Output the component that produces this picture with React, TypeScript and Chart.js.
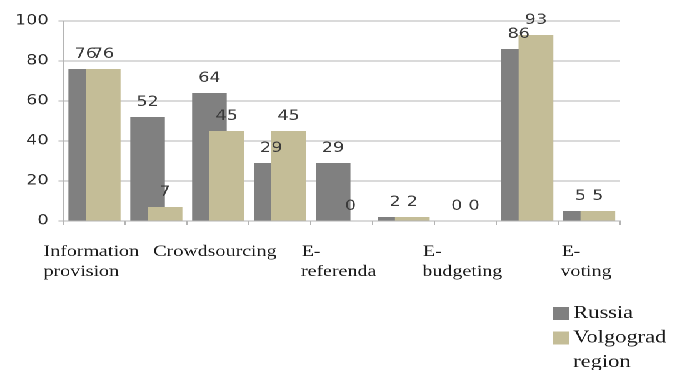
import React, { useEffect, useRef } from 'react';
import { Chart, registerables } from 'chart.js';

Chart.register(...registerables);

// Category names (multi-line labels are stored line by line)
const categories: (string | string[])[] = [
  ['Information', 'provision'],
  '',
  'Crowdsourcing',
  '',
  ['E-', 'referenda'],
  '',
  ['E-', 'budgeting'],
  '',
  ['E-', 'voting'],
];

// Percentages per category
const russia = [76, 52, 64, 29, 29, 2, 0, 86, 5];
const volgograd = [76, 7, 45, 45, 0, 2, 0, 93, 5];

const seriesNames = ['Russia', 'Volgograd region'];
const seriesColors = ['#808080', '#c4bd97'];

const yTicks = [0, 20, 40, 60, 80, 100];

// The chart is laid out narrower and widened horizontally on screen
const STRETCH = 1.25;
const W = 540;
const H = 370;

const SERIF = '"Liberation Serif", "Times New Roman", serif';
const SANS = '"DejaVu Sans", Verdana, sans-serif';
const TICK_FONT_SIZE = 16;
const GRID = '#b4b4b4';

// Pad shorter lines with spaces so centred lines read as a left-aligned block
function leftAlignBlock(label: string | string[]): string | string[] {
  if (!Array.isArray(label)) return label;
  const c = document.createElement('canvas').getContext('2d');
  if (!c) return label;
  c.font = `${TICK_FONT_SIZE}px ${SERIF}`;
  const widest = Math.max(...label.map((l) => c.measureText(l).width));
  return label.map((l) => {
    let s = l;
    while (c.measureText(s + ' ').width <= widest + 1) s += ' ';
    return s;
  });
}

// Overlapping bars: the second series is painted over the first,
// then each bar gets its value written above it
const overlapAndValues = {
  id: 'overlapAndValues',
  afterDatasetsDraw(chart: any) {
    const ctx = chart.ctx;
    const area = chart.chartArea;
    ctx.save();
    ctx.beginPath();
    ctx.rect(area.left, area.top, area.right - area.left, area.bottom - area.top);
    ctx.clip();
    chart.getDatasetMeta(1).controller.draw();
    ctx.restore();

    ctx.save();
    ctx.font = `14px ${SANS}`;
    ctx.fillStyle = '#3a3a3a';
    ctx.textAlign = 'center';
    ctx.textBaseline = 'alphabetic';
    chart.data.datasets.forEach((ds: any, i: number) => {
      const meta = chart.getDatasetMeta(i);
      meta.data.forEach((bar: any, j: number) => {
        ctx.fillText(String(ds.data[j]), bar.x, bar.y - 11);
      });
    });
    ctx.restore();
  },
};

// Legend stacked at the lower right, wrapping long names
const cornerLegend = {
  id: 'cornerLegend',
  afterDraw(chart: any) {
    const ctx = chart.ctx;
    const boxX = chart.chartArea.right - 53.5;
    const textX = boxX + 16;
    const maxW = chart.width - textX - 2;
    const lineH = 24.5;
    let baseline = chart.scales.x.bottom + 19;
    ctx.save();
    ctx.font = `18px ${SERIF}`;
    ctx.textAlign = 'left';
    ctx.textBaseline = 'alphabetic';
    chart.data.datasets.forEach((ds: any) => {
      ctx.fillStyle = ds.backgroundColor;
      ctx.fillRect(boxX, baseline - 11, 13, 13);
      const words = String(ds.label).split(' ');
      const lines: string[] = [];
      let cur = '';
      words.forEach((w) => {
        const test = cur ? cur + ' ' + w : w;
        if (cur && ctx.measureText(test).width > maxW) {
          lines.push(cur);
          cur = w;
        } else {
          cur = test;
        }
      });
      if (cur) lines.push(cur);
      ctx.fillStyle = '#1a1a1a';
      lines.forEach((l) => {
        ctx.fillText(l, textX, baseline);
        baseline += lineH;
      });
    });
    ctx.restore();
  },
};

export default function App() {
  const ref = useRef<HTMLCanvasElement | null>(null);

  useEffect(() => {
    if (!ref.current) return;
    const chart = new Chart(ref.current, {
      type: 'bar',
      data: {
        labels: categories.map(leftAlignBlock),
        datasets: [
          {
            label: seriesNames[0],
            data: russia,
            backgroundColor: seriesColors[0],
            categoryPercentage: 0.56,
            barPercentage: 2.0,
          },
          {
            label: seriesNames[1],
            data: volgograd,
            backgroundColor: seriesColors[1],
            categoryPercentage: 0.56,
            barPercentage: 2.0,
          },
        ],
      },
      options: {
        responsive: false,
        animation: false,
        devicePixelRatio: 2,
        layout: { padding: { left: 4, top: 21, right: 44, bottom: 71 } },
        plugins: {
          legend: { display: false },
          tooltip: { enabled: false },
        },
        scales: {
          x: {
            offset: true,
            grid: {
              offset: true,
              drawOnChartArea: false,
              drawTicks: true,
              tickLength: 4,
              color: GRID,
            },
            border: { color: GRID },
            ticks: {
              autoSkip: false,
              maxRotation: 0,
              minRotation: 0,
              padding: 17,
              labelOffset: -2.5,
              color: '#1a1a1a',
              font: { family: SERIF, size: TICK_FONT_SIZE, lineHeight: 1.25 },
            },
          },
          y: {
            min: yTicks[0],
            max: yTicks[yTicks.length - 1],
            ticks: {
              stepSize: yTicks[1] - yTicks[0],
              padding: 8,
              color: '#2a2a2a',
              font: { family: SANS, size: 14 },
            },
            grid: { color: GRID, tickLength: 4 },
            border: { color: GRID },
          },
        },
      },
      plugins: [overlapAndValues, cornerLegend],
    });
    return () => chart.destroy();
  }, []);

  return (
    <div
      style={{
        position: 'fixed',
        left: 0,
        top: 0,
        width: W,
        height: H,
        background: '#ffffff',
        transform: `scaleX(${STRETCH})`,
        transformOrigin: '0 0',
      }}
    >
      <canvas ref={ref} width={W} height={H} style={{ display: 'block', width: W, height: H }} />
    </div>
  );
}
